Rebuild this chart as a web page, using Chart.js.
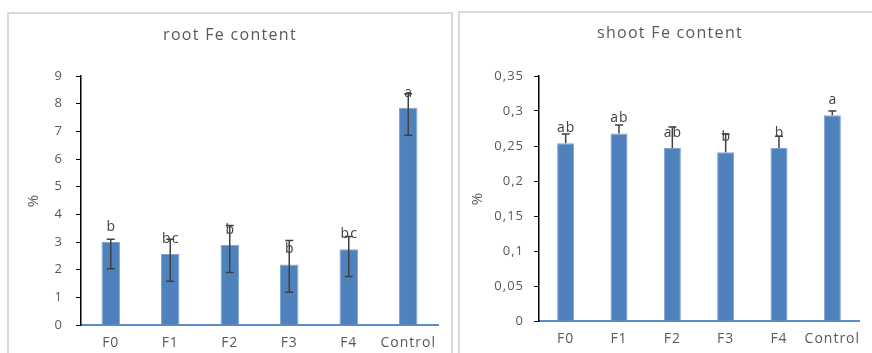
<!DOCTYPE html>
<html>
<head>
<meta charset="utf-8">
<script src="https://cdn.jsdelivr.net/npm/chart.js@4.4.0/dist/chart.umd.min.js"></script>
<style>
    body { margin: 0; background: #fff; width: 872px; height: 353px; overflow: hidden; position: relative; }
    .panel { position: absolute; border: 2px solid #D9D9D9; box-sizing: border-box; }
    canvas { position: absolute; }
</style>
</head>
<body>
<div class="panel" style="left:7px; top:12px; width:446px; height:360px;"></div>
<div class="panel" style="left:458px; top:11px; width:430px; height:360px;"></div>
<canvas id="rootChart" width="442" height="339" style="left:9px; top:14px;"></canvas>
<canvas id="shootChart" width="420" height="340" style="left:460px; top:13px;"></canvas>

<script>
// categories shared by both charts
const categories = ['F0', 'F1', 'F2', 'F3', 'F4', 'Control'];

// root Fe content (%)
const rootValues = [3.0, 2.57, 2.9, 2.19, 2.74, 7.85];
const rootErrPlus = [0.1, 0.53, 0.7, 0.86, 0.46, 0.51];
const rootErrMinus = [0.97, 0.99, 1.0, 1.01, 0.99, 0.99];
const rootLetters = ['b', 'bc', 'b', 'b', 'bc', 'a'];

// shoot Fe content (%)
const shootValues = [0.254, 0.268, 0.247, 0.241, 0.247, 0.294];
const shootErrPlus = [0.013, 0.012, 0.030, 0.026, 0.017, 0.006];
const shootErrMinus = [0, 0, 0, 0, 0, 0];
const shootLetters = ['ab', 'ab', 'ab', 'b', 'b', 'a'];

const textGray = '#595959';
const barBlue = '#4F81BD';

// the original text is set quite wide, so add a little tracking
const wideText = {
    id: 'wideText',
    beforeDraw(chart) {
        chart.ctx.letterSpacing = '1px';
    }
};

// Title drawn centred on the panel
const panelTitle = {
    id: 'panelTitle',
    afterDraw(chart, args, opts) {
        const ctx = chart.ctx;
        ctx.save();
        ctx.letterSpacing = '1.3px';
        ctx.font = '16px "Open Sans"';
        ctx.fillStyle = textGray;
        ctx.textAlign = 'center';
        ctx.textBaseline = 'middle';
        ctx.fillText(opts.text, chart.width / 2, opts.y);
        ctx.restore();
    }
};

// Error bars + significance letters
const errorBars = {
    id: 'errorBars',
    afterDatasetsDraw(chart, args, opts) {
        const ctx = chart.ctx;
        const x = chart.scales.x;
        const y = chart.scales.y;
        ctx.save();
        ctx.strokeStyle = '#404040';
        ctx.lineWidth = 1.5;
        opts.values.forEach((v, i) => {
            const cx = x.getPixelForValue(i);
            const yTop = y.getPixelForValue(v + opts.plus[i]);
            const yBot = y.getPixelForValue(v - opts.minus[i]);
            ctx.beginPath();
            ctx.moveTo(cx, yTop);
            ctx.lineTo(cx, yBot);
            ctx.moveTo(cx - 4, yTop);
            ctx.lineTo(cx + 4, yTop);
            if (opts.minus[i] > 0) {
                ctx.moveTo(cx - 4, yBot);
                ctx.lineTo(cx + 4, yBot);
            }
            ctx.stroke();
        });
        ctx.font = '14px "Open Sans"';
        ctx.fillStyle = '#404040';
        ctx.textAlign = 'center';
        ctx.textBaseline = 'middle';
        opts.values.forEach((v, i) => {
            ctx.fillText(opts.letters[i], x.getPixelForValue(i) + 0.5, y.getPixelForValue(v) - 15);
        });
        ctx.restore();
    }
};

function makeChart(id, cfg) {
    const canvas = document.getElementById(id);
    const W = canvas.width, H = canvas.height;
    return new Chart(canvas.getContext('2d'), {
        type: 'bar',
        data: {
            labels: categories,
            datasets: [{
                data: cfg.values,
                backgroundColor: barBlue,
                borderColor: '#7FA3D3',
                borderWidth: 1,
                barPercentage: cfg.barPct,
                categoryPercentage: 1
            }]
        },
        options: {
            responsive: false,
            animation: false,
            layout: {
                padding: { left: 0, right: W - cfg.area.right, top: cfg.area.top, bottom: 0 }
            },
            plugins: {
                legend: { display: false },
                tooltip: { enabled: false },
                panelTitle: { text: cfg.title, y: cfg.titleY },
                errorBars: { values: cfg.values, plus: cfg.plus, minus: cfg.minus, letters: cfg.letters }
            },
            scales: {
                x: {
                    grid: { display: true, drawOnChartArea: false, drawTicks: false },
                    border: { color: '#5B8BC9', width: 2 },
                    ticks: {
                        color: textGray,
                        font: { family: 'Open Sans', size: 14 },
                        padding: 10,
                        autoSkip: false,
                        maxRotation: 0,
                        minRotation: 0
                    },
                    afterFit(scale) { scale.height = H - cfg.area.bottom; }
                },
                y: {
                    min: 0,
                    max: cfg.max,
                    grid: { drawOnChartArea: false, drawTicks: true, tickLength: 5, color: '#000' },
                    border: { color: '#000', width: 1.5 },
                    ticks: {
                        stepSize: cfg.step,
                        color: textGray,
                        font: { family: 'Open Sans', size: 13 },
                        padding: cfg.tickPad,
                        callback: v => String(Math.round(v * 100) / 100).replace('.', ',')
                    },
                    title: {
                        display: true,
                        text: '%',
                        color: textGray,
                        font: { family: 'Open Sans', size: 15 },
                        padding: { top: cfg.titlePad, bottom: 0 }
                    },
                    afterFit(scale) { scale.width = cfg.area.left; }
                }
            }
        },
        plugins: [wideText, panelTitle, errorBars]
    });
}

makeChart('rootChart', {
    title: 'root Fe content', titleY: 21,
    values: rootValues, plus: rootErrPlus, minus: rootErrMinus, letters: rootLetters,
    max: 9, step: 1, tickPad: 13, titlePad: 16, barPct: 0.31,
    area: { left: 72, right: 429, top: 62, bottom: 311 }
});

makeChart('shootChart', {
    title: 'shoot Fe content', titleY: 20,
    values: shootValues, plus: shootErrPlus, minus: shootErrMinus, letters: shootLetters,
    max: 0.35, step: 0.05, tickPad: 10, titlePad: 9, barPct: 0.32,
    area: { left: 79, right: 399, top: 63, bottom: 308 }
});
</script>
</body>
</html>
